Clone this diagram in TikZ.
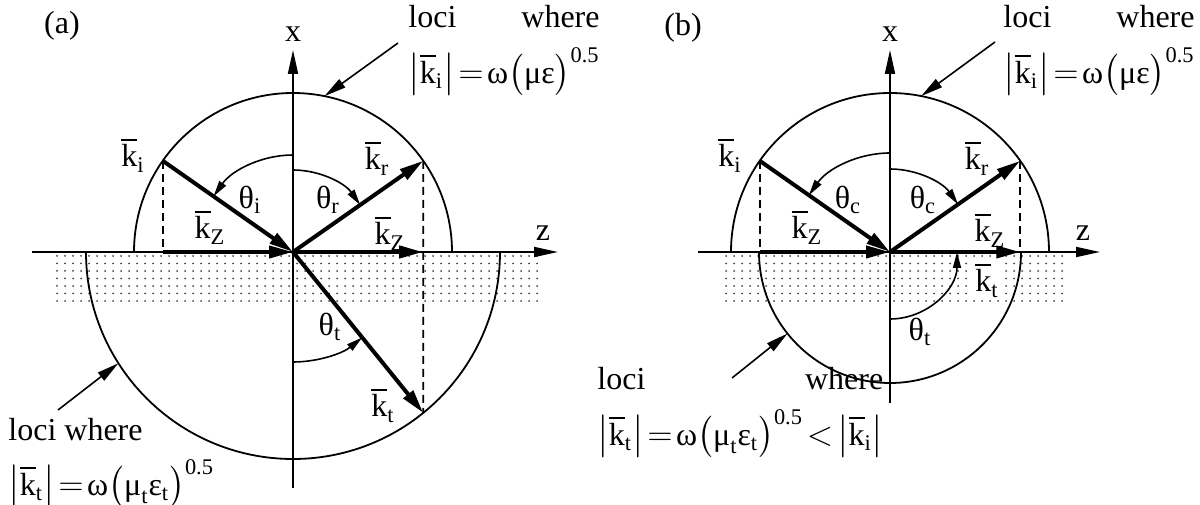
\documentclass[tikz,border=0pt]{standalone}
\usepackage{amsmath}
\usepackage{fontspec}
\setmainfont{Liberation Serif}
\usetikzlibrary{arrows.meta,calc}

\newcommand{\kvec}[1]{$\overline{\text{k}}_{\text{#1}}$}
\newcommand{\kabs}[1]{\big|\overline{\text{k}}_{\text{#1}}\big|}
\newcommand{\thlab}[1]{θ$_{\text{#1}}$}

\begin{document}
\begin{tikzpicture}[
    x=0.5pt, y=0.5pt,
    every node/.style={font=\fontsize{16}{19}\selectfont, inner sep=1pt},
    axis/.style={-{Triangle[length=12pt,width=5pt]}, line width=0.9pt},
    wave/.style={-{Triangle[length=12pt,width=6pt]}, line width=2pt},
    angarc/.style={-{Triangle[length=8pt,width=4pt]}, line width=0.8pt},
    pointer/.style={-{Triangle[length=11pt,width=5pt]}, line width=0.8pt},
    proj/.style={line width=0.8pt, dash pattern=on 4pt off 2.5pt},
    locus/.style={line width=0.9pt},
    grain/.style={fill=black!75},
    note/.style={anchor=north west, inner sep=0pt}
]
\useasboundingbox (0,0) rectangle (1200,504);

% Panel (a)
\begin{scope}[shift={(293,252)}]
\node (taga) at (-231,226) {(a)};

% substrate
\foreach \i in {0,...,60}
  \foreach \j in {0,...,6}
    \fill[grain] (-236+8*\i,-4-7.5*\j) circle[radius=1];

% loci
\draw[locus] (159,0) arc[start angle=0, end angle=180, radius=159];
\draw[locus] (-207,0) arc[start angle=180, end angle=360, radius=207];

% axes
\coordinate (oa) at (0,0);
\coordinate (xbota) at (0,-236);
\coordinate (xtopa) at (0,202);
\coordinate (zlefta) at (-261,0);
\coordinate (zrighta) at (265,0);
\draw[axis] (xbota) -- (xtopa);
\draw[axis] (zlefta) -- (zrighta);
\node (xlaba) at (0,218) {x};
\node (zlaba) at (250,19) {z};

% wave vectors
\coordinate (kia) at (145:159);
\coordinate (kra) at (35:159);
\coordinate (kta) at (-51.01:207);
\coordinate (kzla) at (kia |- oa);
\coordinate (kzra) at (kra |- oa);
\draw[proj] (kia) -- (kzla);
\draw[proj] (kra) -- (kta);
\draw[wave] (kia) -- (oa);
\draw[wave] (oa) -- (kra);
\draw[wave] (oa) -- (kta);
\draw[wave] (kzla) -- (oa);
\draw[wave] (oa) -- (kzra);

% angles
\draw[angarc] (90:97) arc[start angle=90, end angle=145, radius=97];
\draw[angarc] (90:82) arc[start angle=90, end angle=35, radius=82];
\draw[angarc] (-90:110) arc[start angle=-90, end angle=-51, radius=110];

% labels
\node (kilaba) at (-160,97) {\kvec{i}};
\node (krlaba) at (84,94) {\kvec{r}};
\node (ktlaba) at (90,-153) {\kvec{t}};
\node (kzllaba) at (-83,25) {\kvec{Z}};
\node (kzrlaba) at (97,19) {\kvec{Z}};
\node (thia) at (-43,52) {\thlab{i}};
\node (thra) at (35,52) {\thlab{r}};
\node (thta) at (37,-75) {\thlab{t}};

% notes
\coordinate (upa) at (78.6:159);
\coordinate (upfroma) at (105,209);
\draw[pointer] (upfroma) -- (upa);
\node[note] (notetopa) at (115,251)
  {\begin{tabular}{@{}l@{}}loci\hfill where\\[4pt]
   $\kabs{i}\!=\!\text{ω}\big(\text{με}\big)^{\text{0.5}}$\end{tabular}};
\coordinate (lowa) at (212.5:207);
\coordinate (lowfroma) at (-235,-158);
\draw[pointer] (lowfroma) -- (lowa);
\node[note] (notelowa) at (-285,-161)
  {\begin{tabular}{@{}l@{}}loci where\\[4pt]
   $\kabs{t}\!=\!\text{ω}\big(\text{μ}_{\text{t}}\text{ε}_{\text{t}}\big)^{\text{0.5}}$\end{tabular}};
\end{scope}

% Panel (b)
\begin{scope}[shift={(890,252)}]
\node (tagb) at (-207,224) {(b)};

% substrate
\foreach \i in {0,...,42}
  \foreach \j in {0,...,6}
    \fill[grain] (-164+8*\i,-4-7.5*\j) circle[radius=1];

% loci
\draw[locus] (159,0) arc[start angle=0, end angle=180, radius=159];
\draw[locus] (-131,0) arc[start angle=180, end angle=360, radius=131];

% axes
\coordinate (ob) at (0,0);
\coordinate (xbotb) at (0,-151);
\coordinate (xtopb) at (0,202);
\coordinate (zleftb) at (-192,0);
\coordinate (zrightb) at (210,0);
\draw[axis] (xbotb) -- (xtopb);
\draw[axis] (zleftb) -- (zrightb);
\node (xlabb) at (0,218) {x};
\node (zlabb) at (193,19) {z};

% wave vectors
\coordinate (kib) at (145:159);
\coordinate (krb) at (35:159);
\coordinate (kzlb) at (kib |- ob);
\coordinate (kzrb) at (krb |- ob);
\draw[proj] (kib) -- (kzlb);
\draw[proj] (krb) -- (kzrb);
\draw[wave] (kib) -- (ob);
\draw[wave] (ob) -- (krb);
\draw[wave] (kzlb) -- (ob);
\draw[wave] (ob) -- (kzrb);

% angles
\draw[angarc] (90:99) arc[start angle=90, end angle=145, radius=99];
\draw[angarc] (90:83) arc[start angle=90, end angle=35, radius=83];
\draw[angarc] (-90:67) arc[start angle=-90, end angle=0, radius=67];

% labels
\node (kilabb) at (-160,97) {\kvec{i}};
\node (krlabb) at (87,94) {\kvec{r}};
\node[fill=white] (ktlabb) at (97,-28) {\kvec{t}};
\node (kzllabb) at (-83,25) {\kvec{Z}};
\node (kzrlabb) at (100,22) {\kvec{Z}};
\node (thib) at (-42,52) {\thlab{c}};
\node (thrb) at (33,52) {\thlab{c}};
\node (thtb) at (30,-80) {\thlab{t}};

% notes
\coordinate (upb) at (78.7:159);
\coordinate (upfromb) at (105,210);
\draw[pointer] (upfromb) -- (upb);
\node[note] (notetopb) at (113,251)
  {\begin{tabular}{@{}l@{}}loci\hfill where\\[4pt]
   $\kabs{i}\!=\!\text{ω}\big(\text{με}\big)^{\text{0.5}}$\end{tabular}};
\coordinate (lowb) at (218.5:131);
\coordinate (lowfromb) at (-158,-126);
\draw[pointer] (lowfromb) -- (lowb);
\node[note] (notelowb) at (-293,-111)
  {\begin{tabular}{@{}l@{}}loci\hfill where\\[4pt]
   $\kabs{t}\!=\!\text{ω}\big(\text{μ}_{\text{t}}\text{ε}_{\text{t}}\big)^{\text{0.5}}\!<\!\kabs{i}$\end{tabular}};
\end{scope}
\end{tikzpicture}
\end{document}
